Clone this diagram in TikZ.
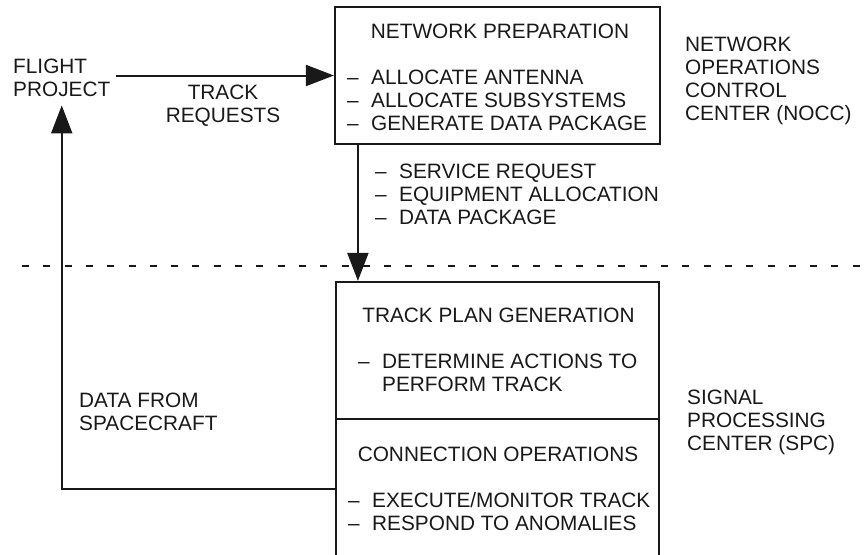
\documentclass[tikz,border=0pt]{standalone}
\usepackage{fontspec}
\setmainfont{Liberation Sans}
\usetikzlibrary{arrows.meta}
\newcommand{\itm}[1]{\makebox[24pt][l]{--}#1}

\begin{document}
\begin{tikzpicture}[
    x=1pt, y=-1pt,
    box/.style={rectangle, draw=black!90, line width=2.2pt, inner sep=0pt},
    txt/.style={font=\fontsize{20.8}{23}\selectfont, align=left, inner sep=0pt, text=black!90},
    arrow/.style={draw=black!90, line width=2pt, -{Triangle[length=28pt,width=21pt]}},
    divider/.style={draw=black!90, line width=1.8pt, dash pattern=on 7pt off 14.3pt}
]
\useasboundingbox (0,0) rectangle (867,554);

% Boxes (top: NOCC, bottom: SPC)
\node[box, minimum width=325pt, minimum height=137pt] (netprep) at (497.5,75.5) {};
\node[box, minimum width=323pt, minimum height=137pt] (plan) at (497.5,350.5) {};
\node[box, minimum width=323pt, minimum height=139pt] (conn) at (497.5,488.5) {};

% Box contents (base = last line)
\node[txt, anchor=base] (nettitle) at (500,38) {NETWORK PREPARATION};
\node[txt, anchor=base west] (netlist) at (347,130) {\itm{ALLOCATE ANTENNA}\\\itm{ALLOCATE SUBSYSTEMS}\\\itm{GENERATE DATA PACKAGE}};
\node[txt, anchor=base] (plantitle) at (498.5,322) {TRACK PLAN GENERATION};
\node[txt, anchor=base west] (planlist) at (358,391) {\itm{DETERMINE ACTIONS TO}\\\hspace*{24pt}PERFORM TRACK};
\node[txt, anchor=base] (conntitle) at (498,461) {CONNECTION OPERATIONS};
\node[txt, anchor=base west] (connlist) at (348,530) {\itm{EXECUTE/MONITOR TRACK}\\\itm{RESPOND TO ANOMALIES}};

% Outside labels
\node[txt, anchor=base west, inner xsep=6pt, inner ysep=9pt] (flight) at (7,96) {FLIGHT\\PROJECT};
\node[txt, anchor=base, align=center] (trackreq) at (223,122) {TRACK\\REQUESTS};
\node[txt, anchor=base west] (flowlist) at (375,224) {\itm{SERVICE REQUEST}\\\itm{EQUIPMENT ALLOCATION}\\\itm{DATA PACKAGE}};
\node[txt, anchor=base west] (scdata) at (79,430) {DATA FROM\\SPACECRAFT};
\node[txt, anchor=base west] (nocc) at (685,120) {NETWORK\\OPERATIONS\\CONTROL\\CENTER (NOCC)};
\node[txt, anchor=base west] (spc) at (687,450) {SIGNAL\\PROCESSING\\CENTER (SPC)};

% Dividing line
\coordinate (sepl) at (22,266);
\coordinate (sepr) at (867,266);
\draw[divider] (sepl) -- (sepr);

% Flow arrows
\draw[arrow] (flight.east |- netprep.west) -- (netprep.west);
\draw[arrow] ([xshift=24pt]netprep.south west) -- ([xshift=24pt]netprep.south west |- plan.north);
\draw[arrow] (conn.west) -| (flight.south);

\end{tikzpicture}
\end{document}
